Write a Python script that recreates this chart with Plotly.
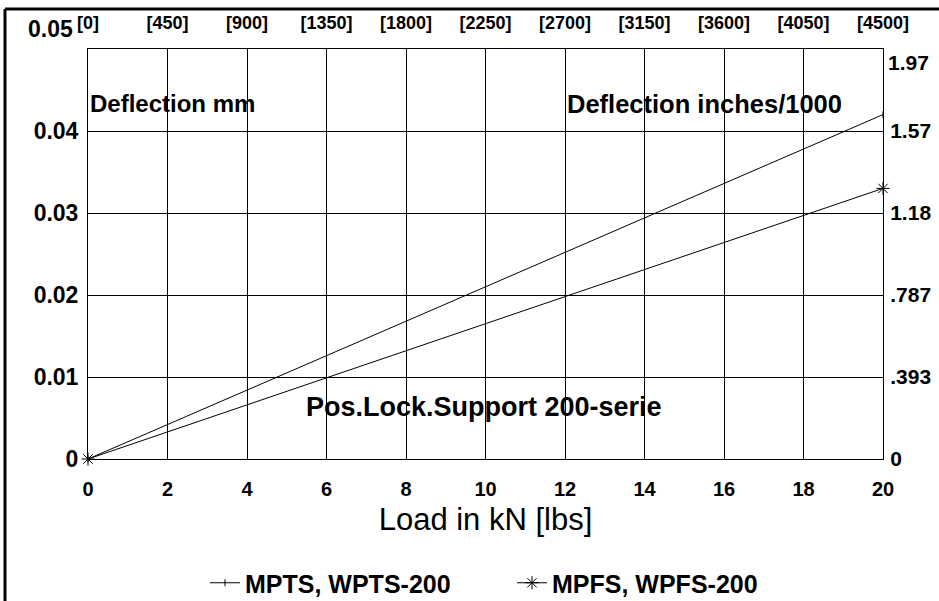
import plotly.graph_objects as go

# ---- data ----
load_kn = [0, 20]
mpts_defl = [0, 0.042]
mpfs_defl = [0, 0.033]

x_ticks = [0, 2, 4, 6, 8, 10, 12, 14, 16, 18, 20]
lbs_labels = ["[0]", "[450]", "[900]", "[1350]", "[1800]", "[2250]",
              "[2700]", "[3150]", "[3600]", "[4050]", "[4500]"]
mm_ticks = [0, 0.01, 0.02, 0.03, 0.04]
mm_labels = ["0", "0.01", "0.02", "0.03", "0.04"]
inch_ticks = [0, 0.01, 0.02, 0.03, 0.04]
inch_labels = ["0", ".393", ".787", "1.18", "1.57"]
top_mm_label = "0.05"
top_inch_label = "1.97"

FONT = "Liberation Sans, Arial, Helvetica, sans-serif"
BLACK = "#000000"
CLEAR = "rgba(0,0,0,0)"

# plot-area pixel geometry (for paper conversions of outside items)
L, R, T, B = 88, 883, 49, 459
W, H = R - L, B - T


def px_x(p):
    return (p - L) / W


def px_y(p):
    return (B - p) / H


fig = go.Figure()

fig.add_trace(go.Scatter(
    x=load_kn, y=mpts_defl, name="MPTS, WPTS-200",
    mode="lines+markers",
    line=dict(color=BLACK, width=1),
    marker=dict(symbol="line-ns-open", size=5, color=BLACK,
                line=dict(color=BLACK, width=1)),
    cliponaxis=False,
))
fig.add_trace(go.Scatter(
    x=load_kn, y=mpfs_defl, name="MPFS, WPFS-200",
    mode="lines+markers",
    line=dict(color=BLACK, width=1),
    marker=dict(symbol="asterisk-open", size=11, color=BLACK,
                line=dict(color=BLACK, width=1)),
    cliponaxis=False,
))
# carrier for the secondary (lbs / inch) axes
fig.add_trace(go.Scatter(
    x=[0], y=[0], xaxis="x2", yaxis="y2", mode="markers",
    marker=dict(opacity=0), showlegend=False, hoverinfo="skip",
))

fig.update_layout(
    width=939, height=601,
    margin=dict(l=L, r=939 - R, t=T, b=601 - B, autoexpand=False),
    paper_bgcolor="white", plot_bgcolor="white",
    font=dict(family=FONT, color=BLACK),
    showlegend=True,
    legend=dict(
        orientation="h", x=px_x(205), xanchor="left",
        y=px_y(583), yanchor="middle",
        font=dict(family=FONT, size=25, weight="bold", color=BLACK),
        bgcolor=CLEAR, entrywidth=262, entrywidthmode="pixels",
    ),
    xaxis=dict(
        range=[0, 20], tickvals=x_ticks, ticktext=[str(v) for v in x_ticks],
        showgrid=True, gridcolor=BLACK, gridwidth=1,
        showline=True, linecolor=BLACK, linewidth=1, mirror=True,
        zeroline=False, ticks="outside", ticklen=12, tickcolor=CLEAR,
        tickfont=dict(family=FONT, size=20, weight="bold", color=BLACK),
        title=dict(text="Load in kN [lbs]", standoff=9,
                   font=dict(family=FONT, size=31, color=BLACK)),
    ),
    yaxis=dict(
        range=[0, 0.05], tickvals=mm_ticks, ticktext=mm_labels,
        showgrid=True, gridcolor=BLACK, gridwidth=1,
        showline=True, linecolor=BLACK, linewidth=1, mirror=True,
        zeroline=False, ticks="outside", ticklen=4, tickcolor=CLEAR,
        tickfont=dict(family=FONT, size=23, weight="bold", color=BLACK),
    ),
    xaxis2=dict(
        overlaying="x", side="top", anchor="y", range=[0, 20],
        tickvals=x_ticks, ticktext=lbs_labels, showgrid=False,
        zeroline=False, showline=False, ticks="outside", ticklen=12,
        tickcolor=CLEAR,
        tickfont=dict(family=FONT, size=18, weight="bold", color=BLACK),
    ),
    yaxis2=dict(
        overlaying="y", side="right", anchor="x", range=[0, 0.05],
        tickvals=inch_ticks, ticktext=inch_labels, showgrid=False,
        zeroline=False, showline=False, ticks="outside", ticklen=2,
        tickcolor=CLEAR,
        tickfont=dict(family=FONT, size=21, weight="bold", color=BLACK),
    ),
    annotations=[
        dict(text=top_mm_label, xref="paper", yref="paper",
             x=px_x(75), y=px_y(29), xanchor="right", yanchor="middle",
             showarrow=False,
             font=dict(family=FONT, size=23, weight="bold", color=BLACK)),
        dict(text=top_inch_label, xref="paper", yref="paper",
             x=px_x(886), y=px_y(62), xanchor="left", yanchor="middle",
             showarrow=False,
             font=dict(family=FONT, size=21, weight="bold", color=BLACK)),
        dict(text="Deflection mm", xref="x", yref="y", x=0.0, y=0.0433,
             xanchor="left", yanchor="middle", showarrow=False,
             font=dict(family=FONT, size=24, weight="bold", color=BLACK)),
        dict(text="Deflection inches/1000", xref="x", yref="y", x=12.0,
             y=0.0433, xanchor="left", yanchor="middle", showarrow=False,
             font=dict(family=FONT, size=25.5, weight="bold", color=BLACK)),
        dict(text="Pos.Lock.Support 200-serie", xref="x", yref="y",
             x=9.95, y=0.0063, xanchor="center", yanchor="middle",
             showarrow=False,
             font=dict(family=FONT, size=27, weight="bold", color=BLACK)),
    ],
    shapes=[
        dict(type="line", xref="paper", yref="paper",
             x0=px_x(5), x1=px_x(939), y0=px_y(9), y1=px_y(9),
             line=dict(color=BLACK, width=3)),
        dict(type="line", xref="paper", yref="paper",
             x0=px_x(5), x1=px_x(5), y0=px_y(9), y1=px_y(601),
             line=dict(color=BLACK, width=3)),
    ],
)

fig.write_html(
    "out.html",
    config={"displayModeBar": False},
    post_script="document.body.style.margin='0';"
                "document.body.style.overflow='hidden';",
)
